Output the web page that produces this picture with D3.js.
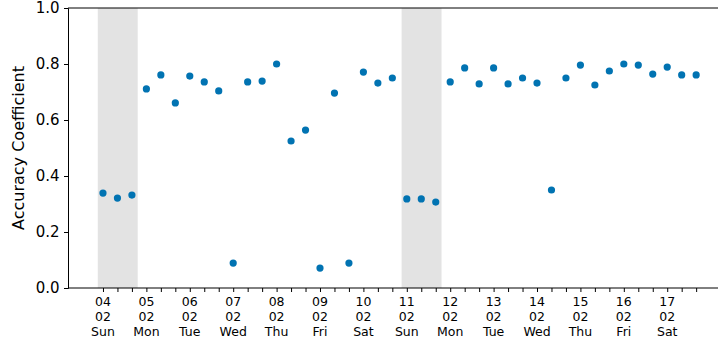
<!DOCTYPE html>
<html>
<head>
<meta charset="utf-8">
<script src="https://cdn.jsdelivr.net/npm/d3@7"></script>
<style>
  body { margin: 0; background: #fff; }
  text { font-family: "DejaVu Sans", sans-serif; fill: #000; }
</style>
</head>
<body>
<div class="chart"></div>
<script>
var width = 718,
    height = 343,
    margin = {left: 68, right: 0, top: 8, bottom: 55};

// one value every 8 hours, starting Sun 04 Feb 00:00
var start_date = new Date(2018, 1, 4, 0, 0);
var accuracy = [
  0.339, 0.321, 0.332,
  0.711, 0.761, 0.661,
  0.757, 0.736, 0.704,
  0.089, 0.736, 0.739,
  0.800, 0.525, 0.564,
  0.071, 0.696, 0.089,
  0.771, 0.732, 0.750,
  0.318, 0.318, 0.307,
  0.736, 0.786, 0.729,
  0.786, 0.729, 0.750,
  0.732, 0.350, 0.750,
  0.796, 0.725, 0.775,
  0.800, 0.796, 0.764,
  0.789, 0.761, 0.761
];
var day_labels = ["04\n02\nSun", "05\n02\nMon", "06\n02\nTue", "07\n02\nWed", "08\n02\nThu",
  "09\n02\nFri", "10\n02\nSat", "11\n02\nSun", "12\n02\nMon", "13\n02\nTue",
  "14\n02\nWed", "15\n02\nThu", "16\n02\nFri", "17\n02\nSat"];
var weekend_days = [new Date(2018, 1, 4), new Date(2018, 1, 11)];
var y_ticks = [0, 0.2, 0.4, 0.6, 0.8, 1.0];

var hour = 3600 * 1000, day = 24 * hour;
var points = accuracy.map(function(v, i) {
  return {date: new Date(+start_date + i * 8 * hour), value: v};
});
var days = day_labels.map(function(l, i) { return new Date(+start_date + i * day); });

var x = d3.scaleTime()
    .domain([new Date(+start_date - 0.806 * day), new Date(+start_date + 14.17 * day)])
    .range([margin.left, width - margin.right]);
var y = d3.scaleLinear()
    .domain([0, 1])
    .range([height - margin.bottom, margin.top]);

var svg = d3.select(".chart").append("svg")
    .attr("width", width)
    .attr("height", height);

// weekend shading
svg.selectAll("rect.weekend")
  .data(weekend_days)
  .enter().append("rect")
    .attr("class", "weekend")
    .attr("x", function(d) { return x(new Date(+d - 0.12 * day)); })
    .attr("width", function(d) { return x(new Date(+d + 0.8 * day)) - x(new Date(+d - 0.12 * day)); })
    .attr("y", y(1))
    .attr("height", y(0) - y(1))
    .attr("fill", "#e3e3e3");

// top spine
svg.append("line")
    .attr("x1", margin.left).attr("x2", width)
    .attr("y1", y(1)).attr("y2", y(1))
    .attr("stroke", "#000").attr("stroke-width", 1);

// y axis
var y_axis = svg.append("g")
    .attr("transform", "translate(" + margin.left + ",0)")
    .call(d3.axisLeft(y).tickValues(y_ticks).tickFormat(d3.format(".1f")).tickSizeOuter(0).tickSize(4));
y_axis.selectAll("text").style("font-size", "15px").attr("dx", "-0.1em");
y_axis.select(".domain").attr("stroke", "#000");

// x axis: a tick every 8 hours, labels at midnight
var x_axis = svg.append("g")
    .attr("transform", "translate(0," + y(0) + ")")
    .call(d3.axisBottom(x).tickValues(points.map(function(p) { return p.date; }))
      .tickFormat("").tickSizeOuter(0).tickSize(4));
x_axis.select(".domain").attr("stroke", "#000").attr("d", "M" + margin.left + ",0H" + width);

var labels = svg.append("g").selectAll("text")
  .data(days)
  .enter().append("text")
    .attr("text-anchor", "middle")
    .style("font-size", "12.5px")
    .attr("transform", function(d) { return "translate(" + x(d) + "," + (y(0) + 18) + ")"; });
labels.each(function(d, i) {
  var lines = day_labels[i].split("\n");
  d3.select(this).selectAll("tspan")
    .data(lines)
    .enter().append("tspan")
      .attr("x", 0)
      .attr("y", function(l, j) { return j * 15; })
      .text(function(l) { return l; });
});

// y label
svg.append("text")
    .attr("transform", "translate(24," + ((y(0) + y(1)) / 2) + ") rotate(-90)")
    .attr("text-anchor", "middle")
    .style("font-size", "16px")
    .text("Accuracy Coefficient");

// points
svg.selectAll("circle.pt")
  .data(points)
  .enter().append("circle")
    .attr("class", "pt")
    .attr("cx", function(d) { return x(d.date); })
    .attr("cy", function(d) { return y(d.value); })
    .attr("r", 3.6)
    .attr("fill", "#0173b2");
</script>
</body>
</html>
